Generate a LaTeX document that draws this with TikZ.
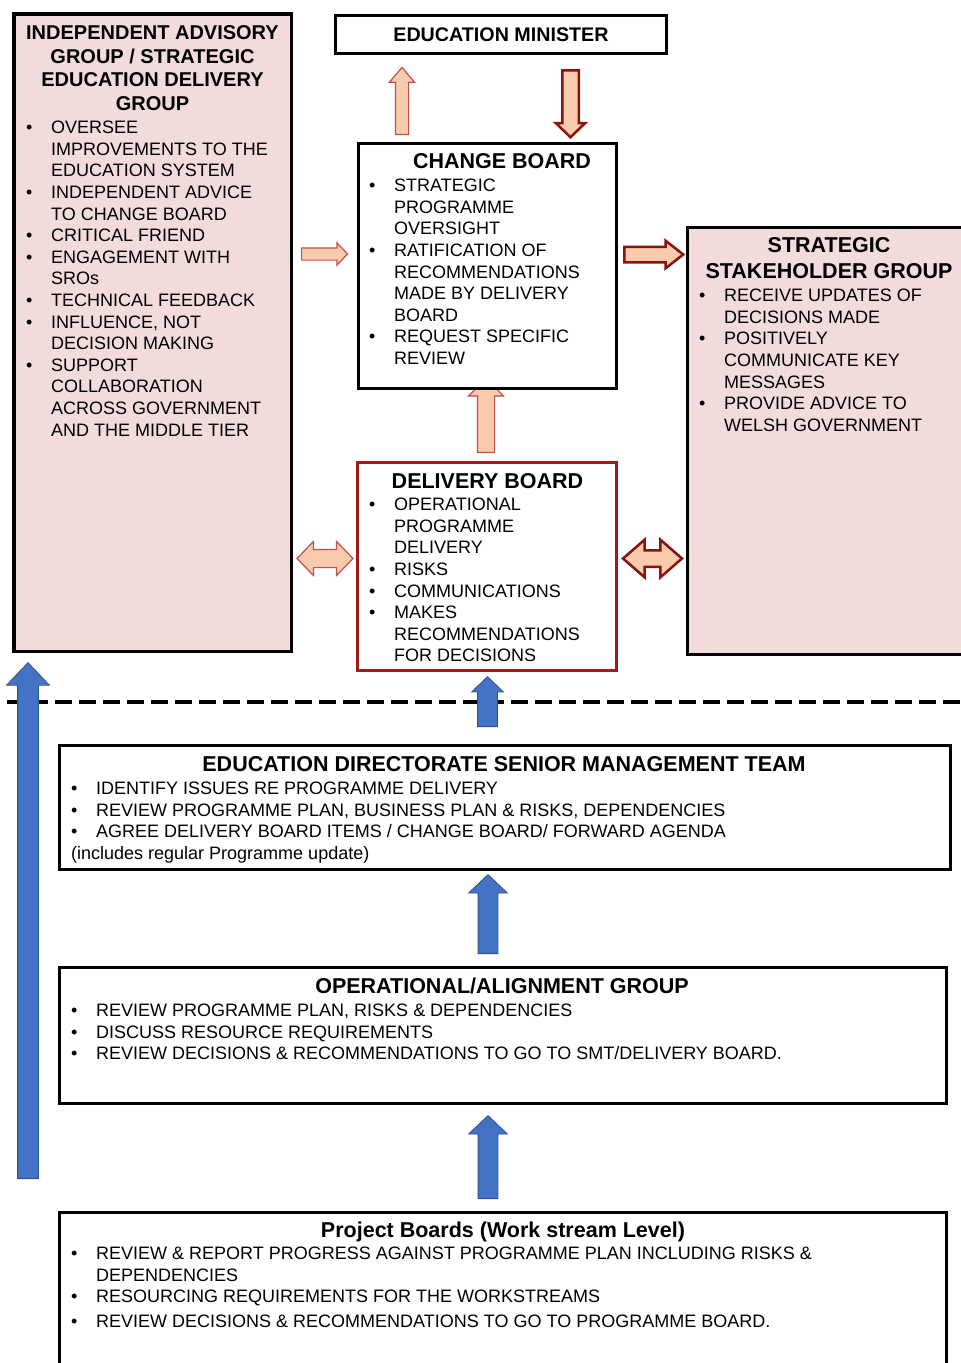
\documentclass[tikz,border=0pt]{standalone}
\usepackage{fontspec}
\setmainfont{Liberation Sans}
\usetikzlibrary{shapes.arrows}

\definecolor{pinkfill}{HTML}{F2DCDB}
\definecolor{salmon}{HTML}{F8CBAD}
\definecolor{lightred}{HTML}{C0504D}
\definecolor{darkred}{HTML}{8B1010}
\definecolor{boxred}{HTML}{A01C1C}
\definecolor{arrowblue}{HTML}{4472C4}
\definecolor{blueedge}{HTML}{2F528F}

\tikzset{
  pinkbox/.style={rectangle, draw=black, line width=3.5pt, fill=pinkfill, inner sep=0pt},
  whitebox/.style={rectangle, draw=black, line width=3pt, fill=white, inner sep=0pt},
  redbox/.style={rectangle, draw=boxred, line width=2.5pt, fill=white, inner sep=0pt},
  boxtitle/.style={font=\fontsize{21.5}{26}\selectfont\bfseries, inner sep=0pt, anchor=base},
  boxbody/.style={font=\fontsize{18}{21.6}\selectfont, inner sep=0pt, anchor=north west},
  lightarrow/.style={single arrow, draw=lightred, line width=1.2pt, fill=salmon, anchor=tail},
  darkarrow/.style={single arrow, draw=darkred, line width=2.5pt, fill=salmon, anchor=tail},
  lightdouble/.style={double arrow, draw=lightred, line width=1.2pt, fill=salmon},
  darkdouble/.style={double arrow, draw=darkred, line width=2.5pt, fill=salmon},
  bluearrow/.style={single arrow, draw=blueedge, line width=0.8pt, fill=arrowblue, shape border rotate=90, anchor=tail}
}
\newcommand{\bul}{\textbullet}

\begin{document}
\begin{tikzpicture}[x=1pt,y=-1pt]
\useasboundingbox (0,0) rectangle (961,1363);

% dashed divider
\coordinate (dashl) at (7,702);
\coordinate (dashr) at (961,702);
\draw[line width=4pt, dash pattern=on 17pt off 7pt] (dashl)--(dashr);

% top level boxes
\node[pinkbox, minimum width=277.5pt, minimum height=637.5pt] (iag) at (152.75,332.75) {};
\node[boxtitle, font=\fontsize{20}{23.67}\selectfont\bfseries, anchor=north] (iagtitle) at (152.5,22.6)
  {\begin{tabular}{@{}c@{}}INDEPENDENT ADVISORY\\GROUP / STRATEGIC\\EDUCATION DELIVERY\\GROUP\end{tabular}};
\node[boxbody] (iagbody) at (26,118.33) {\begin{tabular}{@{}p{25pt}@{}l@{}}
\bul & OVERSEE\\
 & IMPROVEMENTS TO THE\\
 & EDUCATION SYSTEM\\
\bul & INDEPENDENT ADVICE\\
 & TO CHANGE BOARD\\
\bul & CRITICAL FRIEND\\
\bul & ENGAGEMENT WITH\\
 & SROs\\
\bul & TECHNICAL FEEDBACK\\
\bul & INFLUENCE, NOT\\
 & DECISION MAKING\\
\bul & SUPPORT\\
 & COLLABORATION\\
 & ACROSS GOVERNMENT\\
 & AND THE MIDDLE TIER
\end{tabular}};

\node[whitebox, minimum width=331pt, minimum height=37.5pt, font=\fontsize{19.7}{24}\selectfont\bfseries] (minister) at (501,34.25) {EDUCATION MINISTER};

% arrow under the change board goes first
\node[lightarrow, shape border rotate=90, inner sep=8pt, minimum height=74pt, minimum width=34pt, single arrow head extend=9pt, single arrow tip angle=90] (updb) at (486,453) {};

\node[whitebox, minimum width=258pt, minimum height=245pt] (cb) at (487.5,266) {};
\node[boxtitle] (cbtitle) at (502,168.7) {CHANGE BOARD};
\node[boxbody] (cbbody) at (369,176.33) {\begin{tabular}{@{}p{25pt}@{}l@{}}
\bul & STRATEGIC\\
 & PROGRAMME\\
 & OVERSIGHT\\
\bul & RATIFICATION OF\\
 & RECOMMENDATIONS\\
 & MADE BY DELIVERY\\
 & BOARD\\
\bul & REQUEST SPECIFIC\\
 & REVIEW
\end{tabular}};

\node[redbox, minimum width=259pt, minimum height=208pt] (db) at (487,566.5) {};
\node[boxtitle] (dbtitle) at (487.5,488.7) {DELIVERY BOARD};
\node[boxbody] (dbbody) at (369,495.33) {\begin{tabular}{@{}p{25pt}@{}l@{}}
\bul & OPERATIONAL\\
 & PROGRAMME\\
 & DELIVERY\\
\bul & RISKS\\
\bul & COMMUNICATIONS\\
\bul & MAKES\\
 & RECOMMENDATIONS\\
 & FOR DECISIONS
\end{tabular}};

\node[pinkbox, minimum width=292.5pt, minimum height=427pt] (ssg) at (833.75,441) {};
\node[boxtitle, anchor=north] (ssgtitle) at (829,234.5)
  {\begin{tabular}{@{}c@{}}STRATEGIC\\STAKEHOLDER GROUP\end{tabular}};
\node[boxbody] (ssgbody) at (699,286.33) {\begin{tabular}{@{}p{25pt}@{}l@{}}
\bul & RECEIVE UPDATES OF\\
 & DECISIONS MADE\\
\bul & POSITIVELY\\
 & COMMUNICATE KEY\\
 & MESSAGES\\
\bul & PROVIDE ADVICE TO\\
 & WELSH GOVERNMENT
\end{tabular}};

% block arrows between the top boxes
\node[lightarrow, shape border rotate=90, inner sep=6pt, minimum height=67pt, minimum width=24pt, single arrow head extend=6pt, single arrow tip angle=81] (upmin) at (402,135) {};
\node[darkarrow, shape border rotate=270, inner sep=7pt, minimum height=67pt, minimum width=27pt, single arrow head extend=6.5pt, single arrow tip angle=92] (downcb) at (570.5,69) {};
\node[lightarrow, inner sep=5.5pt, minimum height=46pt, minimum width=21pt, single arrow head extend=5pt, single arrow tip angle=93] (tocb) at (301,254) {};
\node[darkarrow, inner sep=6.5pt, minimum height=59pt, minimum width=25pt, single arrow head extend=6pt, single arrow tip angle=76] (tossg) at (623,254.5) {};
\node[lightdouble, inner sep=8.5pt, minimum height=56pt, minimum width=33pt, double arrow head extend=8pt, double arrow tip angle=92] (iagdb) at (325,558.5) {};
\node[darkdouble, inner sep=7pt, minimum height=59pt, minimum width=35pt, double arrow head extend=10.5pt, double arrow tip angle=82] (dbssg) at (652.5,558.5) {};

% lower boxes
\node[whitebox, minimum width=891pt, minimum height=124pt] (smt) at (505,807.5) {};
\node[boxtitle] (smttitle) at (504,771.7) {EDUCATION DIRECTORATE SENIOR MANAGEMENT TEAM};
\node[boxbody] (smtbody) at (71,779.33) {\begin{tabular}{@{}p{25pt}@{}l@{}}
\bul & IDENTIFY ISSUES RE PROGRAMME DELIVERY\\
\bul & REVIEW PROGRAMME PLAN, BUSINESS PLAN \& RISKS, DEPENDENCIES\\
\bul & AGREE DELIVERY BOARD ITEMS / CHANGE BOARD/ FORWARD AGENDA\\
\multicolumn{2}{@{}l@{}}{(includes regular Programme update)}
\end{tabular}};

\node[whitebox, minimum width=887pt, minimum height=136pt] (oag) at (503,1035.5) {};
\node[boxtitle] (oagtitle) at (502,993.7) {OPERATIONAL/ALIGNMENT GROUP};
\node[boxbody] (oagbody) at (71,1001.33) {\begin{tabular}{@{}p{25pt}@{}l@{}}
\bul & REVIEW PROGRAMME PLAN, RISKS \& DEPENDENCIES\\
\bul & DISCUSS RESOURCE REQUIREMENTS\\
\bul & REVIEW DECISIONS \& RECOMMENDATIONS TO GO TO SMT/DELIVERY BOARD.
\end{tabular}};

\node[whitebox, minimum width=887pt, minimum height=177.5pt] (pb) at (503,1301.25) {};
\node[boxtitle] (pbtitle) at (503,1237.7) {Project Boards (Work stream Level)};
\node[boxbody] (pbbody) at (71,1244.33) {\begin{tabular}{@{}p{25pt}@{}l@{}}
\bul & REVIEW \& REPORT PROGRESS AGAINST PROGRAMME PLAN INCLUDING RISKS \&\\
 & DEPENDENCIES\\
\bul & RESOURCING REQUIREMENTS FOR THE WORKSTREAMS\\[3.4pt]
\bul & REVIEW DECISIONS \& RECOMMENDATIONS TO GO TO PROGRAMME BOARD.
\end{tabular}};

% blue arrows
\node[bluearrow, inner sep=10pt, minimum height=516pt, minimum width=42pt, single arrow head extend=11pt, single arrow tip angle=87] (uplong) at (28,1179) {};
\node[bluearrow, inner sep=9.5pt, minimum height=50pt, minimum width=31pt, single arrow head extend=6pt, single arrow tip angle=92] (updash) at (487.5,727) {};
\node[bluearrow, inner sep=9.5pt, minimum height=79pt, minimum width=38pt, single arrow head extend=9.5pt, single arrow tip angle=93] (upsmt) at (488,954) {};
\node[bluearrow, inner sep=9.5pt, minimum height=83pt, minimum width=38pt, single arrow head extend=9.5pt, single arrow tip angle=93] (upoag) at (488,1199) {};
\end{tikzpicture}
\end{document}
